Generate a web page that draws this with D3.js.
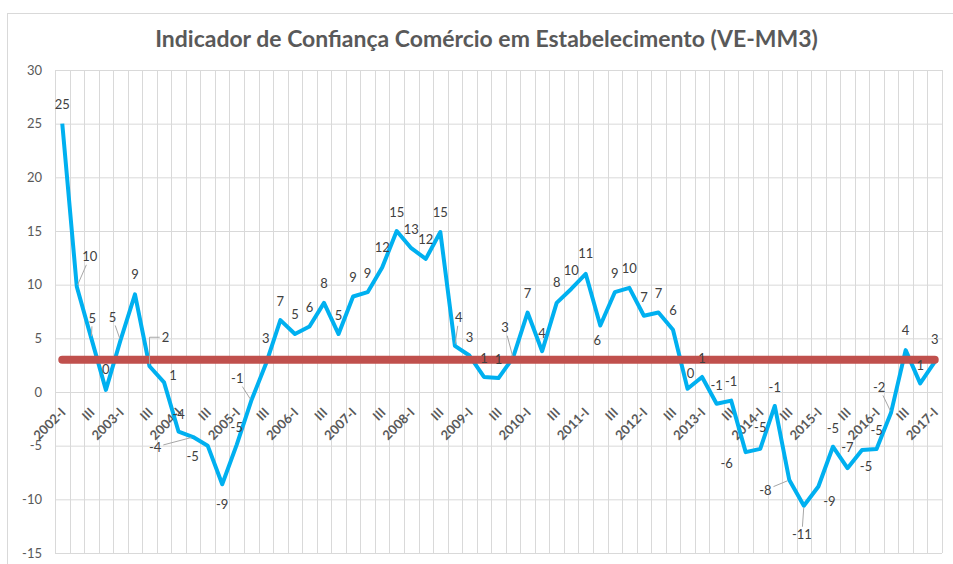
<!DOCTYPE html>
<html>
<head>
<meta charset="utf-8">
<script src="https://cdn.jsdelivr.net/npm/d3@7"></script>
<style>
  html, body { margin: 0; padding: 0; background: #fff; }
  svg { display: block; }
</style>
</head>
<body>
<svg id="chart" width="953" height="564"></svg>
<script>
// ---------------- DATA ----------------
const chartTitle = "Indicador de Confiança Comércio em Estabelecimento (VE-MM3)";

const categories = [
  "2002-I","2002-II","2002-III","2002-IV",
  "2003-I","2003-II","2003-III","2003-IV",
  "2004-I","2004-II","2004-III","2004-IV",
  "2005-I","2005-II","2005-III","2005-IV",
  "2006-I","2006-II","2006-III","2006-IV",
  "2007-I","2007-II","2007-III","2007-IV",
  "2008-I","2008-II","2008-III","2008-IV",
  "2009-I","2009-II","2009-III","2009-IV",
  "2010-I","2010-II","2010-III","2010-IV",
  "2011-I","2011-II","2011-III","2011-IV",
  "2012-I","2012-II","2012-III","2012-IV",
  "2013-I","2013-II","2013-III","2013-IV",
  "2014-I","2014-II","2014-III","2014-IV",
  "2015-I","2015-II","2015-III","2015-IV",
  "2016-I","2016-II","2016-III","2016-IV",
  "2017-I"
];

const seriesValues = [
  25.0, 9.8, 5.0, 0.2,
  4.8, 9.1, 2.4, 0.9,
  -3.7, -4.2, -5.0, -8.6,
  -4.9, -0.8, 2.6, 6.7,
  5.4, 6.1, 8.3, 5.4,
  8.9, 9.3, 11.6, 15.0,
  13.4, 12.4, 14.9, 4.3,
  3.4, 1.4, 1.3, 3.2,
  7.4, 3.8, 8.3, 9.6,
  11.0, 6.2, 9.3, 9.7,
  7.1, 7.4, 5.8, 0.3,
  1.4, -1.1, -0.8, -5.6,
  -5.3, -1.3, -8.2, -10.6,
  -8.8, -5.1, -7.1, -5.4,
  -5.3, -1.9, 3.9, 0.8,
  2.8
];

const referenceValues = [3];

const yTickValues = [-15, -10, -5, 0, 5, 10, 15, 20, 25, 30];

const tickCategories = [
  "2002-I","2002-III","2003-I","2003-III","2004-I","2004-III","2005-I","2005-III",
  "2006-I","2006-III","2007-I","2007-III","2008-I","2008-III","2009-I","2009-III",
  "2010-I","2010-III","2011-I","2011-III","2012-I","2012-III","2013-I","2013-III",
  "2014-I","2014-III","2015-I","2015-III","2016-I","2016-III","2017-I"
];
const tickLabels = [
  "2002-I","III","2003-I","III","2004-I","III","2005-I","III",
  "2006-I","III","2007-I","III","2008-I","III","2009-I","III",
  "2010-I","III","2011-I","III","2012-I","III","2013-I","III",
  "2014-I","III","2015-I","III","2016-I","III","2017-I"
];

// ---------------- LAYOUT (label placement, not data) ----------------
// [dx, dy, leader] : label centre offset from point; leader: 0 none, 1 straight, 2 elbow
const labelLayout = [
  [0,-19,0],[13,-30,1],[1,-20,1],[0,-20,0],
  [-8,-23,1],[0,-20,0],[16,-29,2],[9,-7,0],
  [0,-17,0],[-38,10,1],[-15,11,0],[0,20,0],
  [0,-17,0],[-14,-22,1],[0,-26,0],[0,-19,0],
  [0,-20,0],[0,-19,0],[0,-19,0],[0,-19,0],
  [0,-19,0],[0,-19,0],[0,-20,0],[0,-19,0],
  [0,-19,0],[0,-19,0],[0,-20,0],[4,-28,1],
  [0,-18,0],[0,-19,0],[0,-19,0],[-8,-30,1],
  [0,-19,0],[0,-18,0],[0,-20,0],[0,-19,0],
  [0,-20,0],[-3,15,0],[0,-19,0],[0,-19,0],
  [0,-18,0],[0,-19,0],[0,-19,0],[3,-15,0],
  [0,-19,0],[0,-18,0],[0,-19,0],[-19,11,0],
  [0,-21,0],[0,-19,0],[-24,10,1],[-2,29,1],
  [11,15,0],[0,-18,0],[0,-21,0],[4,16,0],
  [0,-18,0],[-12,-25,1],[0,-20,0],[0,-18,0],
  [0,-22,0]
];

// ---------------- DRAW ----------------
const svg = d3.select("#chart");
const plot = { left: 55, right: 942, top: 70, bottom: 553 };
const FONT = "Lato, 'Open Sans', 'Liberation Sans', sans-serif";

const x = d3.scaleBand().domain(categories).range([plot.left, plot.right]).padding(0);
const y = d3.scaleLinear().domain([-15, 30]).range([plot.bottom, plot.top]);
const cx = d => x(d) + x.bandwidth() / 2;

// chart border
svg.append("rect")
  .attr("x", 7.5).attr("y", 13.5).attr("width", 980).attr("height", 600)
  .attr("fill", "#fff").attr("stroke", "#D9D9D9").attr("stroke-width", 1);

// title
const title = svg.append("text")
  .attr("x", 486.5).attr("y", 47)
  .attr("text-anchor", "middle")
  .attr("font-family", FONT)
  .attr("font-weight", "bold")
  .attr("font-size", 19)
  .attr("fill", "#595959")
  .text(chartTitle);
const tw = title.node().getComputedTextLength();
title.attr("font-size", 19 * 663 / tw);

// vertical gridlines (category boundaries)
const boundaries = categories.map(c => x(c)).concat([x(categories[categories.length - 1]) + x.bandwidth()]);
svg.append("g").selectAll("line").data(boundaries).join("line")
  .attr("x1", d => Math.round(d) + 0.5).attr("x2", d => Math.round(d) + 0.5)
  .attr("y1", plot.top).attr("y2", plot.bottom)
  .attr("stroke", "#D9D9D9").attr("stroke-width", 1);

// y axis with horizontal gridlines
const yAxis = svg.append("g")
  .attr("transform", `translate(${plot.left},0)`)
  .call(d3.axisLeft(y).tickValues(yTickValues).tickSize(-(plot.right - plot.left)).tickPadding(13).tickFormat(d3.format("d")));
yAxis.select(".domain").remove();
yAxis.selectAll(".tick line").attr("stroke", "#D9D9D9");
yAxis.selectAll(".tick text")
  .attr("font-family", FONT).attr("font-size", 13).attr("fill", "#595959")
  .text(d => String(d));

// category axis at zero
const xAxis = svg.append("g")
  .attr("transform", `translate(0,${y(0)})`)
  .call(d3.axisBottom(x).tickValues(tickCategories).tickSize(0).tickFormat((d, i) => tickLabels[i]));
xAxis.select(".domain").remove();
xAxis.selectAll(".tick text")
  .attr("x", 0).attr("y", 0).attr("dy", "0.35em")
  .attr("text-anchor", "end")
  .attr("transform", "translate(1,18) rotate(-45)")
  .attr("font-family", FONT).attr("font-size", 13).attr("font-weight", "bold")
  .attr("fill", "#595959");

// series line
const pts = categories.map((c, i) => ({ c, v: seriesValues[i], i }));
svg.append("path")
  .datum(pts)
  .attr("fill", "none")
  .attr("stroke", "#00B0F0")
  .attr("stroke-width", 4)
  .attr("stroke-linejoin", "round")
  .attr("d", d3.line().x(d => cx(d.c)).y(d => y(d.v)));

// reference line
svg.append("g").selectAll("line").data(referenceValues).join("line")
  .attr("x1", cx(categories[0])).attr("x2", cx(categories[categories.length - 1]))
  .attr("y1", d => y(d)).attr("y2", d => y(d))
  .attr("stroke", "#C0504D").attr("stroke-width", 8).attr("stroke-linecap", "round");

// data labels
const lblG = svg.append("g");
pts.forEach(p => {
  const [dx, dy, leader] = labelLayout[p.i];
  const px = cx(p.c), py = y(p.v);
  const lx = px + dx, ly = py + dy;
  const t = lblG.append("text")
    .attr("x", lx).attr("y", ly).attr("dy", "0.35em")
    .attr("text-anchor", "middle")
    .attr("font-family", FONT).attr("font-size", 13).attr("fill", "#404040")
    .text(String(Math.round(p.v)));
  const w = t.node().getComputedTextLength();
  if (leader === 1) {
    const vx = px - lx, vy = py - ly;
    const hw = w / 2 + 2, hh = 8;
    const s = Math.min(vx !== 0 ? hw / Math.abs(vx) : Infinity, vy !== 0 ? hh / Math.abs(vy) : Infinity);
    const len = Math.hypot(vx, vy);
    const e = Math.max(0, 1 - 2 / len);
    lblG.insert("line", "text")
      .attr("x1", lx + vx * s).attr("y1", ly + vy * s)
      .attr("x2", lx + vx * e).attr("y2", ly + vy * e)
      .attr("stroke", "#A6A6A6").attr("stroke-width", 1);
  } else if (leader === 2) {
    const sx = lx - w / 2 - 2;
    lblG.insert("path", "text")
      .attr("d", `M${sx},${ly} L${px},${ly} L${px},${py - 2}`)
      .attr("fill", "none")
      .attr("stroke", "#A6A6A6").attr("stroke-width", 1);
  }
});
</script>
</body>
</html>
